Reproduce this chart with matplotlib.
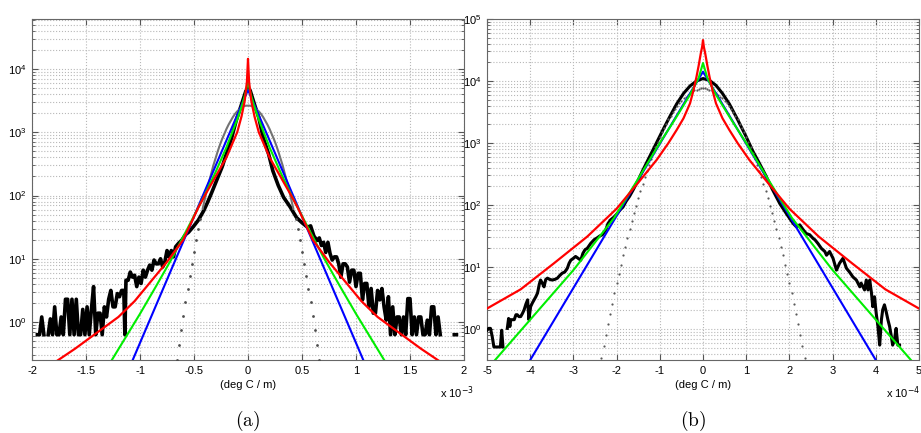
import numpy as np
import matplotlib
matplotlib.use("Agg")
import matplotlib.pyplot as plt
from matplotlib.ticker import LogLocator, LogFormatterMathtext, FuncFormatter, NullFormatter

plt.rcParams['font.family'] = ['Liberation Sans', 'DejaVu Sans']

# ---------------- panel (a): x in units of 1e-3, y stored as log10 ----------------
a_xticks = [-2, -1.5, -1, -0.5, 0, 0.5, 1, 1.5, 2]

a_black_x = [-1.95, -1.93, -1.91, -1.89, -1.87, -1.85, -1.83, -1.81, -1.79, -1.77, -1.75, -1.73,
             -1.71, -1.69, -1.67, -1.65, -1.63, -1.61, -1.59, -1.57, -1.55, -1.53, -1.51, -1.49,
             -1.47, -1.45, -1.43, -1.41, -1.39, -1.37, -1.35, -1.33, -1.31, -1.29, -1.27, -1.25,
             -1.23, -1.21, -1.19, -1.17, -1.15, -1.14, -1.13, -1.11, -1.09, -1.07, -1.05, -1.03,
             -1.01, -0.99, -0.97, -0.95, -0.93, -0.91, -0.89, -0.87, -0.85, -0.83, -0.81, -0.79,
             -0.77, -0.75, -0.73, -0.71, -0.69, -0.67, -0.64, -0.61, -0.58, -0.55, -0.51, -0.46,
             -0.41, -0.38, -0.34, -0.29, -0.24, -0.20, -0.15, -0.11, -0.07, -0.04, -0.02, 0.0,
             0.02, 0.04, 0.06, 0.10, 0.14, 0.19, 0.23, 0.28, 0.33, 0.39, 0.45, 0.50,
             0.55, 0.58, 0.61, 0.64, 0.66, 0.68, 0.70, 0.72, 0.74, 0.76, 0.78, 0.80,
             0.82, 0.84, 0.86, 0.88, 0.90, 0.92, 0.94, 0.96, 0.98, 1.00, 1.02, 1.04,
             1.06, 1.08, 1.10, 1.12, 1.14, 1.16, 1.18, 1.20, 1.22, 1.24, 1.26, 1.28,
             1.30, 1.32, 1.34, 1.36, 1.38, 1.40, 1.42, 1.44, 1.46, 1.48, 1.50, 1.52,
             1.54, 1.56, 1.58, 1.60, 1.62, 1.64, 1.66, 1.68, 1.70, 1.72, 1.74, 1.76,
             1.78, 1.80, 1.91, 1.93]
a_black_log = [-0.2, -0.2, 0.08, -0.2, None, -0.2, 0.05, -0.2, 0.24, -0.2, -0.2, 0.08,
               -0.2, 0.36, 0.36, -0.2, 0.36, -0.2, 0.36, -0.2, -0.2, 0.2, -0.2, 0.24,
               -0.2, 0.2, 0.56, -0.2, 0.14, 0.14, -0.2, 0.24, 0.08, 0.36, 0.5, 0.24,
               0.24, 0.45, 0.4, 0.5, 0.5, -0.2, 0.66, 0.66, 0.79, 0.71, 0.74, 0.56,
               0.71, 0.61, 0.82, 0.71, 0.82, 0.9, 0.82, 0.98, 0.92, 0.92, 1.0, 0.87,
               0.95, 1.13, 1.03, 1.13, 1.03, 1.19, 1.25, 1.3, 1.38, 1.42, 1.5, 1.61,
               1.76, 1.87, 2.03, 2.24, 2.45, 2.66, 2.92, 3.18, 3.39, 3.55, 3.65, 3.7,
               3.66, 3.55, 3.44, 3.23, 2.92, 2.66, 2.39, 2.16, 1.97, 1.82, 1.65, 1.57,
               1.5, 1.52, 1.36, 1.29, 1.33, 1.21, 1.26, 1.1, 1.26, 1.08, 0.98, 1.03,
               1.03, 0.92, 0.71, 0.92, 0.92, 0.87, 0.63, 0.82, 0.82, 0.56, 0.77, 0.77,
               0.35, 0.61, 0.61, 0.24, 0.53, 0.14, 0.14, 0.5, 0.35, 0.53, 0.24, 0.03,
               0.4, -0.2, 0.24, -0.2, 0.08, 0.08, -0.2, 0.08, -0.2, 0.37, 0.37, -0.2,
               0.08, -0.2, 0.08, 0.08, -0.2, -0.2, 0.03, -0.2, 0.24, 0.24, -0.2, 0.08,
               -0.2, None, -0.2, -0.2]

a_gray_x = [-0.68, -0.66, -0.64, -0.62, -0.60, -0.58, -0.56, -0.54, -0.52, -0.50, -0.48, -0.46,
            -0.44, -0.42, -0.40, -0.38, -0.36, -0.34, -0.32, -0.30, -0.28, -0.26, -0.24, -0.22,
            -0.20, -0.18, -0.16, -0.14, -0.12, -0.10, -0.08, -0.06, -0.04, -0.02, 0.0,
            0.02, 0.04, 0.06, 0.08, 0.10, 0.12, 0.14, 0.16, 0.18, 0.20, 0.22, 0.24,
            0.26, 0.28, 0.30, 0.32, 0.34, 0.36, 0.38, 0.40, 0.42, 0.44, 0.46, 0.48,
            0.50, 0.52, 0.54, 0.56, 0.58, 0.60, 0.62, 0.64, 0.66, 0.68]
a_gray_log = [-0.85, -0.60, -0.36, -0.13, 0.10, 0.32, 0.53, 0.73, 0.92, 1.11, 1.29, 1.47,
              1.63, 1.79, 1.94, 2.09, 2.22, 2.35, 2.48, 2.59, 2.70, 2.80, 2.89, 2.97,
              3.05, 3.12, 3.18, 3.24, 3.29, 3.33, 3.36, 3.39, 3.41, 3.42, 3.42,
              3.42, 3.41, 3.39, 3.36, 3.33, 3.29, 3.24, 3.18, 3.12, 3.05, 2.97, 2.89,
              2.80, 2.70, 2.59, 2.48, 2.35, 2.22, 2.09, 1.94, 1.79, 1.63, 1.47, 1.29,
              1.11, 0.92, 0.73, 0.53, 0.32, 0.10, -0.13, -0.36, -0.60, -0.85]

a_blue_x = [-1.15, 0.0, 1.15]
a_blue_log = [-0.93, 3.67, -0.93]

a_green_x = [-1.3, -1.15, -1.0, -0.85, -0.7, -0.52, -0.4, -0.3, -0.2, -0.1, -0.05, -0.02, 0.0,
             0.02, 0.05, 0.1, 0.2, 0.3, 0.4, 0.52, 0.7, 0.85, 1.0, 1.15, 1.3]
a_green_log = [-0.71, -0.29, 0.13, 0.57, 1.02, 1.61, 2.01, 2.37, 2.76, 3.20, 3.45, 3.64, 3.81,
               3.64, 3.45, 3.20, 2.76, 2.37, 2.01, 1.61, 1.02, 0.57, 0.13, -0.29, -0.71]

a_red_x = [-1.8, -1.6, -1.4, -1.2, -1.05, -0.9, -0.75, -0.6, -0.46, -0.4, -0.3, -0.2, -0.1,
           -0.06, -0.03, -0.01, 0.0, 0.01, 0.03, 0.06, 0.1, 0.2, 0.3, 0.4, 0.46, 0.6,
           0.75, 0.9, 1.05, 1.2, 1.4, 1.6, 1.8]
a_red_log = [-0.65, -0.42, -0.17, 0.08, 0.33, 0.64, 0.95, 1.30, 1.81, 2.0, 2.3, 2.6, 3.0,
             3.25, 3.5, 3.8, 4.16, 3.8, 3.5, 3.25, 3.0, 2.6, 2.3, 2.0, 1.81, 1.30,
             0.95, 0.64, 0.33, 0.08, -0.17, -0.42, -0.65]

# ---------------- panel (b): x in units of 1e-4 ----------------
b_xticks = [-5, -4, -3, -2, -1, 0, 1, 2, 3, 4, 5]

b_black_x = [-5.0, -4.96, -4.92, -4.88, -4.84, -4.80, -4.74, -4.69, -4.66, -4.63, -4.60, -4.56,
             -4.53, -4.50, -4.47, -4.45, -4.41, -4.37, -4.33, -4.30, -4.26, -4.22, -4.18, -4.14,
             -4.10, -4.06, -4.03, -3.99, -3.95, -3.91, -3.87, -3.83, -3.79, -3.76, -3.72, -3.68,
             -3.64, -3.60, -3.55, -3.49, -3.43, -3.37, -3.32, -3.26, -3.20, -3.14, -3.10, -3.06,
             -3.0, -2.95, -2.89, -2.83, -2.78, -2.73, -2.68, -2.60, -2.52, -2.45, -2.39, -2.33,
             -2.25, -2.20, -2.14, -2.07, -2.0, -1.92, -1.85, -1.78, -1.70, -1.62, -1.50, -1.40,
             -1.30, -1.18, -1.07, -0.9, -0.75, -0.61, -0.45, -0.3, -0.15, 0.0,
             0.15, 0.3, 0.45, 0.61, 0.8, 1.0, 1.16, 1.3, 1.45, 1.6, 1.78, 1.95,
             2.09, 2.16, 2.24, 2.32, 2.39, 2.47, 2.55, 2.59, 2.66, 2.74, 2.82, 2.86,
             2.93, 3.01, 3.09, 3.16, 3.24, 3.32, 3.39, 3.47, 3.55, 3.63, 3.66, 3.74,
             3.78, 3.82, 3.86, 3.90, 3.93, 3.97, 4.01, 4.05, 4.09, 4.13, 4.16, 4.20,
             4.24, 4.28, 4.32, 4.36, 4.39, 4.43, 4.47, 4.51, 4.55]
b_black_log = [-0.02, 0.01, 0.01, -0.12, -0.29, -0.29, -0.29, -0.29, -0.02, -0.29, None, None,
               0.01, 0.17, 0.04, 0.15, 0.15, 0.15, 0.23, 0.23, 0.20, 0.20, 0.25, 0.31,
               0.40, 0.47, 0.15, 0.36, 0.42, 0.47, 0.52, 0.58, 0.72, 0.79, 0.74, 0.68,
               0.80, 0.82, 0.80, 0.79, 0.80, 0.82, 0.86, 0.90, 0.92, 0.98, 1.06, 1.11,
               1.14, 1.17, 1.14, 1.11, 1.22, 1.28, 1.30, 1.38, 1.44, 1.47, 1.50, 1.52,
               1.60, 1.70, 1.76, 1.80, 1.85, 1.92, 1.97, 2.06, 2.14, 2.24, 2.40, 2.55,
               2.69, 2.86, 3.01, 3.25, 3.45, 3.63, 3.80, 3.92, 4.00, 4.04,
               4.01, 3.93, 3.80, 3.63, 3.38, 3.10, 2.86, 2.68, 2.48, 2.26, 2.02, 1.84,
               1.70, 1.65, 1.68, 1.60, 1.54, 1.52, 1.46, 1.44, 1.38, 1.30, 1.25, 1.19,
               1.25, 1.14, 0.95, 1.06, 1.14, 0.98, 0.92, 0.84, 0.79, 0.68, 0.74, 0.63,
               0.79, 0.63, 0.79, 0.58, 0.36, 0.52, 0.25, 0.04, -0.26, 0.15, 0.31, 0.39,
               0.28, 0.15, 0.04, -0.12, -0.26, -0.18, 0.01, -0.26, -0.26]

b_gray_x = [-2.40, -2.35, -2.30, -2.25, -2.20, -2.15, -2.10, -2.05, -2.00, -1.95, -1.90, -1.85,
            -1.80, -1.75, -1.70, -1.65, -1.60, -1.55, -1.50, -1.45, -1.40, -1.35, -1.30, -1.25,
            -1.20, -1.15, -1.10, -1.05, -1.00, -0.95, -0.90, -0.85, -0.80, -0.75, -0.70, -0.65,
            -0.60, -0.55, -0.50, -0.45, -0.40, -0.35, -0.30, -0.25, -0.20, -0.15, -0.10, -0.05,
            0.00, 0.05, 0.10, 0.15, 0.20, 0.25, 0.30, 0.35, 0.40, 0.45, 0.50, 0.55,
            0.60, 0.65, 0.70, 0.75, 0.80, 0.85, 0.90, 0.95, 1.00, 1.05, 1.10, 1.15,
            1.20, 1.25, 1.30, 1.35, 1.40, 1.45, 1.50, 1.55, 1.60, 1.65, 1.70, 1.75,
            1.80, 1.85, 1.90, 1.95, 2.00, 2.05, 2.10, 2.15, 2.20, 2.25, 2.30, 2.35, 2.40]
b_gray_log = [-0.65, -0.46, -0.28, -0.10, 0.08, 0.25, 0.41, 0.58, 0.74, 0.89, 1.04, 1.19,
              1.33, 1.47, 1.61, 1.74, 1.87, 1.99, 2.11, 2.23, 2.34, 2.45, 2.55, 2.65,
              2.75, 2.84, 2.93, 3.01, 3.09, 3.17, 3.24, 3.31, 3.38, 3.44, 3.50, 3.55,
              3.60, 3.64, 3.68, 3.72, 3.75, 3.78, 3.81, 3.83, 3.85, 3.86, 3.87, 3.88,
              3.88, 3.88, 3.87, 3.86, 3.85, 3.83, 3.81, 3.78, 3.75, 3.72, 3.68, 3.64,
              3.60, 3.55, 3.50, 3.44, 3.38, 3.31, 3.24, 3.17, 3.09, 3.01, 2.93, 2.84,
              2.75, 2.65, 2.55, 2.45, 2.34, 2.23, 2.11, 1.99, 1.87, 1.74, 1.61, 1.47,
              1.33, 1.19, 1.04, 0.89, 0.74, 0.58, 0.41, 0.25, 0.08, -0.10, -0.28, -0.46, -0.65]

b_blue_x = [-4.3, 0.0, 4.3]
b_blue_log = [-0.85, 4.15, -0.85]

b_green_x = [-5.0, -4.85, -4.0, -3.0, -2.06, -1.52, -1.0, -0.66, -0.3, -0.1, 0.0,
             0.1, 0.3, 0.66, 1.0, 1.52, 2.06, 3.0, 4.0, 4.85, 5.0]
b_green_log = [-0.65, -0.53, 0.15, 0.95, 1.79, 2.40, 3.0, 3.37, 3.78, 4.05, 4.29,
               4.05, 3.78, 3.37, 3.0, 2.40, 1.79, 0.95, 0.15, -0.53, -0.65]

b_red_x = [-5.2, -5.0, -4.22, -3.45, -2.68, -2.0, -1.5, -1.07, -0.8, -0.61, -0.45, -0.3, -0.22,
           -0.15, -0.1, -0.05, -0.02, 0.0, 0.02, 0.05, 0.1, 0.15, 0.22, 0.3, 0.45, 0.61,
           0.8, 1.07, 1.5, 2.0, 2.68, 3.45, 4.22, 5.0, 5.2]
b_red_log = [0.27, 0.33, 0.64, 1.06, 1.49, 1.94, 2.36, 2.73, 3.0, 3.21, 3.40, 3.64, 3.85,
             4.07, 4.25, 4.45, 4.55, 4.66, 4.55, 4.45, 4.25, 4.07, 3.85, 3.64, 3.40, 3.21,
             3.0, 2.73, 2.36, 1.94, 1.49, 1.06, 0.64, 0.33, 0.27]


def lg(v):
    return 10 ** np.array(v, dtype=float)


fig = plt.figure(figsize=(9.21, 4.33), dpi=100)
ax_a = fig.add_axes([32 / 921, 73 / 433, 432 / 921, 341 / 433])
ax_b = fig.add_axes([487 / 921, 73 / 433, 432 / 921, 341 / 433])

# panel (a)
ax_a.plot(a_black_x, lg(a_black_log), color='black', lw=2.6, zorder=3)
# gaussian: solid-looking near the top, separate dots on the steep flanks
gx = np.array(a_gray_x)
gy = lg(a_gray_log)
top = np.array(a_gray_log) >= 1.7
ax_a.plot(gx[top], gy[top], color='0.45', lw=1.5, zorder=3)
ax_a.plot(gx[~top], gy[~top], ls='none', marker='o', ms=2.0, mew=0, color='0.3', zorder=3)
ax_a.plot(a_blue_x, lg(a_blue_log), color='#0000ff', lw=1.5, zorder=4)
ax_a.plot(a_green_x, lg(a_green_log), color='#00ee00', lw=1.5, zorder=4)
ax_a.plot(a_red_x, lg(a_red_log), color='#ff0000', lw=1.6, zorder=5)
ax_a.set_xlim(-2, 2)
ax_a.set_ylim(10 ** -0.6, 10 ** 4.79)
ax_a.set_xticks(a_xticks)

# panel (b)
ax_b.plot(b_black_x, lg(b_black_log), color='black', lw=2.2, zorder=3)
ax_b.plot(b_gray_x, lg(b_gray_log), ls='none', marker='o', ms=1.6, mew=0, color='0.35', zorder=3)
ax_b.plot(b_blue_x, lg(b_blue_log), color='#0000ff', lw=1.5, zorder=4)
ax_b.plot(b_green_x, lg(b_green_log), color='#00ee00', lw=1.5, zorder=4)
ax_b.plot(b_red_x, lg(b_red_log), color='#ff0000', lw=1.6, zorder=5)
ax_b.set_xlim(-5, 5)
ax_b.set_ylim(10 ** -0.5, 1e5)
ax_b.set_xticks(b_xticks)

for ax in (ax_a, ax_b):
    ax.set_yscale('log')
    ax.yaxis.set_major_locator(LogLocator(base=10, numticks=10))
    ax.yaxis.set_minor_locator(LogLocator(base=10, subs=np.arange(2, 10), numticks=20))
    ax.yaxis.set_major_formatter(LogFormatterMathtext())
    ax.yaxis.set_minor_formatter(NullFormatter())
    ax.xaxis.set_major_formatter(FuncFormatter(lambda v, p: '%g' % v))
    ax.grid(True, which='major', axis='both', ls=':', lw=0.8, color='#b8b8b8')
    ax.grid(True, which='minor', axis='y', ls=':', lw=0.8, color='#b8b8b8')
    ax.tick_params(which='both', direction='in', top=True, right=True,
                   labelsize=8, color='#555555', pad=4)
    ax.tick_params(which='major', length=4)
    ax.tick_params(which='minor', length=2)
    for s in ax.spines.values():
        s.set_color('#666666')
        s.set_linewidth(0.8)
    ax.set_xlabel('(deg C / m)', fontsize=8, labelpad=3)

fig.text(440 / 921, 1 - 393 / 433, 'x 10$^{-3}$', fontsize=8, va='center', ha='left')
fig.text(886 / 921, 1 - 393 / 433, 'x 10$^{-4}$', fontsize=8, va='center', ha='left')
fig.text(248 / 921, 1 - 421 / 433, r'$\mathrm{(a)}$', fontsize=14, ha='center', va='center',
         math_fontfamily='cm')
fig.text(693 / 921, 1 - 421 / 433, r'$\mathrm{(b)}$', fontsize=14, ha='center', va='center',
         math_fontfamily='cm')

fig.savefig('out.png', dpi=100)
